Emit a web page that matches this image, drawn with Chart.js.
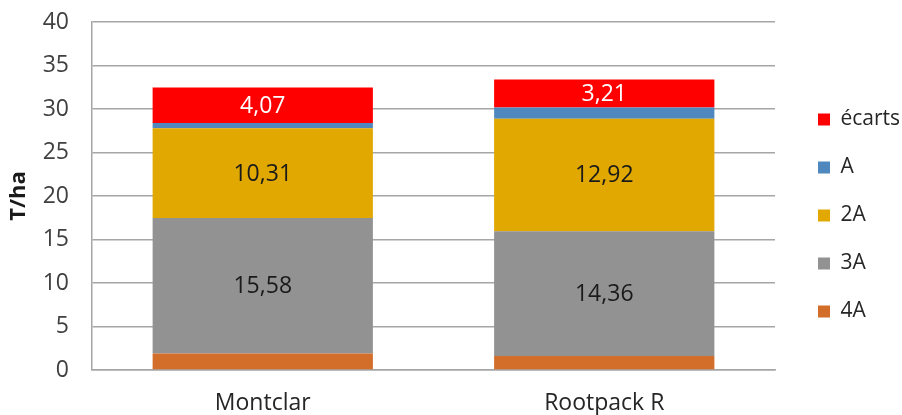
<!DOCTYPE html>
<html>
<head>
<meta charset="utf-8">
<script src="https://cdn.jsdelivr.net/npm/chart.js@4.4.1/dist/chart.umd.min.js"></script>
<style>
  html, body { margin: 0; padding: 0; background: #fff; }
  #wrap { width: 902px; height: 415px; position: relative; }
</style>
</head>
<body>
<div id="wrap"><canvas id="chart"></canvas></div>
<script>
const categories = ["Montclar", "Rootpack R"];
const s4A = [1.9, 1.6];
const s3A = [15.58, 14.36];
const s2A = [10.31, 12.92];
const sA = [0.6, 1.3];
const ecarts = [4.07, 3.21];
const yTicks = [0, 5, 10, 15, 20, 25, 30, 35, 40];

const FONT = "'Open Sans', 'Liberation Sans', sans-serif";

// labels inside segments, only for some series
const barLabels = {
  id: "barLabels",
  afterDatasetsDraw(chart) {
    const ctx = chart.ctx;
    ctx.save();
    ctx.font = "23px " + FONT;
    ctx.textAlign = "center";
    ctx.textBaseline = "middle";
    chart.data.datasets.forEach((ds, i) => {
      if (!ds.showLabel) return;
      const meta = chart.getDatasetMeta(i);
      meta.data.forEach((bar, j) => {
        const p = bar.getCenterPoint();
        ctx.fillStyle = ds.labelColor;
        ctx.fillText(ds.data[j].toFixed(2).replace(".", ","), p.x, p.y + 1);
      });
    });
    ctx.restore();
  }
};

new Chart(document.getElementById("chart"), {
  type: "bar",
  data: {
    labels: categories,
    datasets: [
      { label: "4A", data: s4A, backgroundColor: "#D26E2A" },
      { label: "3A", data: s3A, backgroundColor: "#929292", showLabel: true, labelColor: "#1a1a1a" },
      { label: "2A", data: s2A, backgroundColor: "#E0A800", showLabel: true, labelColor: "#1a1a1a" },
      { label: "A", data: sA, backgroundColor: "#4F88BE" },
      { label: "écarts", data: ecarts, backgroundColor: "#FF0000", showLabel: true, labelColor: "#ffffff" }
    ]
  },
  options: {
    responsive: true,
    maintainAspectRatio: false,
    animation: false,
    layout: { padding: { top: 16, right: 0, bottom: 0, left: 0 } },
    datasets: {
      bar: { categoryPercentage: 1, barPercentage: 0.645, borderWidth: 0 }
    },
    plugins: {
      tooltip: { enabled: false },
      legend: {
        position: "right",
        reverse: true,
        maxWidth: 111,
        labels: {
          boxWidth: 12,
          boxHeight: 12,
          padding: 27,
          color: "#262626",
          font: { family: FONT, size: 21 }
        }
      }
    },
    scales: {
      x: {
        stacked: true,
        grid: { display: false, drawTicks: false },
        border: { display: true, color: "#a6a6a6", width: 1.5 },
        ticks: { color: "#262626", padding: 20, font: { family: FONT, size: 23 } },
        afterFit(scale) { scale.height = 45; scale.paddingLeft = 0; scale.paddingRight = 0; }
      },
      y: {
        stacked: true,
        min: 0,
        max: 40,
        afterBuildTicks(scale) { scale.ticks = yTicks.map(v => ({ value: v })); },
        grid: { color: "#a6a6a6", lineWidth: 1.5, drawTicks: false },
        border: { display: true, color: "#a6a6a6", width: 1.5 },
        ticks: { color: "#404040", padding: 23, font: { family: FONT, size: 23 } },
        title: {
          display: true,
          text: "T/ha",
          color: "#1a1a1a",
          padding: { top: 6, bottom: 0 },
          font: { family: FONT, size: 22, weight: "bold" }
        },
        afterFit(scale) { scale.width = 92; scale.paddingTop = 22; scale.paddingBottom = 0; }
      },
      gap: {
        position: "right",
        display: true,
        grid: { display: false, drawTicks: false },
        border: { display: false },
        ticks: { display: false },
        afterFit(scale) { scale.width = 16; scale.paddingTop = 0; scale.paddingBottom = 0; }
      }
    }
  },
  plugins: [barLabels]
});
</script>
</body>
</html>
